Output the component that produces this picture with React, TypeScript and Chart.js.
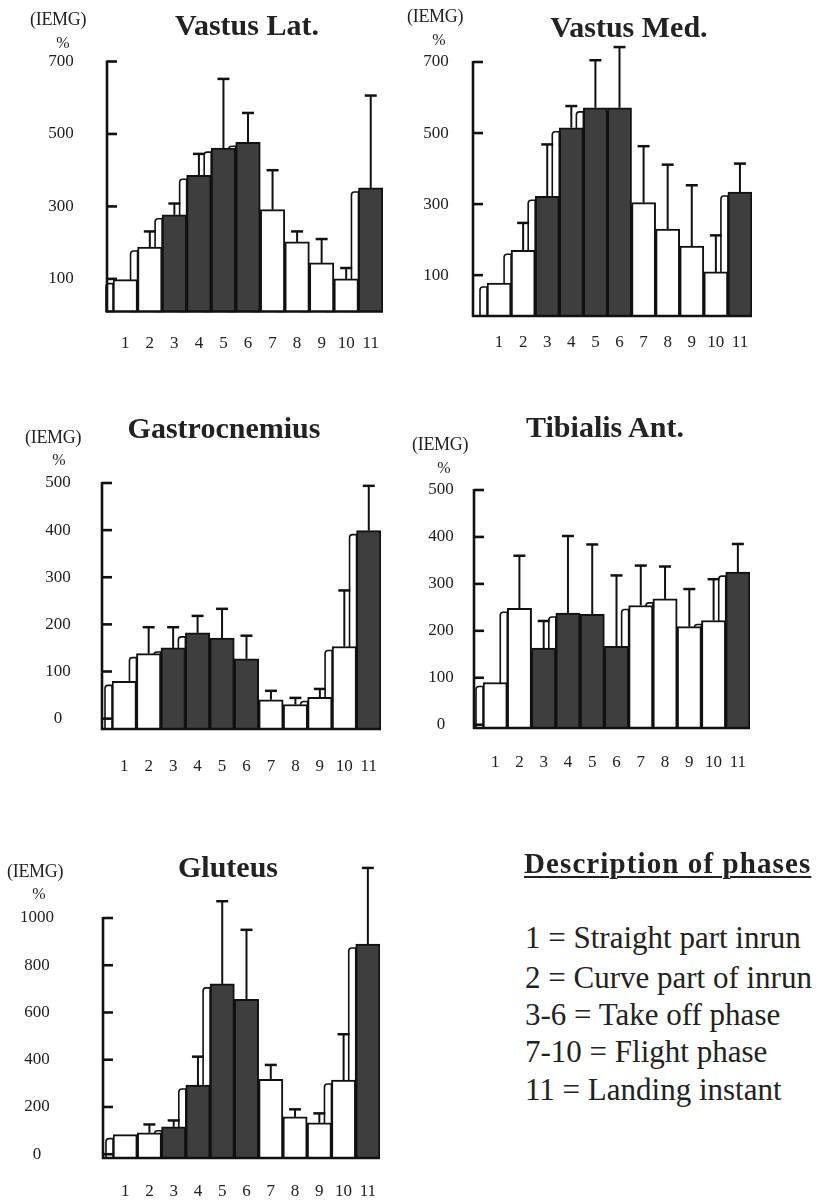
import React, { useEffect, useRef } from 'react';
import { Chart, registerables } from 'chart.js';

Chart.register(...registerables);

// ---------- data ----------
const PHASES = ['1', '2', '3', '4', '5', '6', '7', '8', '9', '10', '11'];
const PHASE_GROUP = ['inrun', 'inrun', 'takeoff', 'takeoff', 'takeoff', 'takeoff', 'flight', 'flight', 'flight', 'flight', 'landing'];

const VASTUS_LAT_MEAN = [98, 188, 277, 386, 461, 477, 291, 202, 144, 100, 351];
const VASTUS_LAT_UPPER = [null, 231, 308, 445, 652, 558, 400, 231, 210, 130, 606];

const VASTUS_MED_MEAN = [78, 170, 322, 515, 571, 571, 304, 230, 182, 109, 334];
const VASTUS_MED_UPPER = [null, 247, 468, 576, 705, 742, 463, 411, 353, 212, 414];

const GASTRO_MEAN = [79, 138, 150, 182, 171, 127, 40, 30, 45, 153, 399];
const GASTRO_UPPER = [null, 194, 194, 218, 233, 176, 59, 44, 63, 272, 494];

const TIBIALIS_MEAN = [90, 248, 163, 238, 235, 167, 254, 268, 209, 222, 325];
const TIBIALIS_UPPER = [null, 360, 221, 402, 384, 318, 339, 337, 289, 310, 385];

const GLUTEUS_MEAN = [83, 91, 116, 293, 721, 656, 317, 158, 133, 314, 890];
const GLUTEUS_UPPER = [null, 126, 143, 413, 1071, 950, 378, 190, 173, 508, 1212];

const TICKS_700 = [100, 300, 500, 700];
const TICKS_500 = [0, 100, 200, 300, 400, 500];
const TICKS_1000 = [0, 200, 400, 600, 800, 1000];

const DESCRIPTION_TITLE = 'Description of phases';
const DESCRIPTION_LINES = [
  '1 = Straight part inrun',
  '2 = Curve part of inrun',
  '3-6 = Take off phase',
  '7-10 = Flight phase',
  '11 = Landing instant',
];

// ---------- styles / layout ----------
const SERIF = "'Liberation Serif', 'Times New Roman', serif";
const INK = '#222';
const DARK_FILL = '#3e3e3e';
const LIGHT_FILL = '#ffffff';

const groupColor = (g: string) => (g === 'takeoff' || g === 'landing' ? DARK_FILL : LIGHT_FILL);

type Layout = {
  canvas: { x: number; y: number; w: number };
  area: { left: number; top: number; right: number; bottom: number };
  yMin: number;
  yMax: number;
  axisGap: number;
  yLabelCenter: number;
  widest: number;
  xLabelPad: number;
  titleCx: number;
  titleBase: number;
  iemgLeft: number;
  iemgBase: number;
  pctCx: number;
  pctBase: number;
};

const SPECS = [
  { title: 'Vastus Lat.', mean: VASTUS_LAT_MEAN, upper: VASTUS_LAT_UPPER, ticks: TICKS_700 },
  { title: 'Vastus Med.', mean: VASTUS_MED_MEAN, upper: VASTUS_MED_UPPER, ticks: TICKS_700 },
  { title: 'Gastrocnemius', mean: GASTRO_MEAN, upper: GASTRO_UPPER, ticks: TICKS_500 },
  { title: 'Tibialis Ant.', mean: TIBIALIS_MEAN, upper: TIBIALIS_UPPER, ticks: TICKS_500 },
  { title: 'Gluteus', mean: GLUTEUS_MEAN, upper: GLUTEUS_UPPER, ticks: TICKS_1000 },
];

const TICK_FONT = 17;
const X_SCALE_HEIGHT = 75;
const BOTTOM_PAD = 2;

const LAYOUTS: Layout[] = [
  {
    canvas: { x: 0, y: 0, w: 410 },
    area: { left: 113, top: 61.5, right: 383, bottom: 311.5 },
    yMin: 10, yMax: 700, axisGap: 6, yLabelCenter: 61, widest: 3, xLabelPad: 22,
    titleCx: 247, titleBase: 35, iemgLeft: 30, iemgBase: 25, pctCx: 63, pctBase: 48,
  },
  {
    canvas: { x: 409, y: 0, w: 410 },
    area: { left: 487, top: 62, right: 752, bottom: 316 },
    yMin: -15, yMax: 700, axisGap: 14, yLabelCenter: 436, widest: 3, xLabelPad: 16,
    titleCx: 629, titleBase: 37, iemgLeft: 407, iemgBase: 22, pctCx: 439, pctBase: 45,
  },
  {
    canvas: { x: 0, y: 400, w: 410 },
    area: { left: 112, top: 483, right: 381, bottom: 729 },
    yMin: -22, yMax: 500, axisGap: 10, yLabelCenter: 58, widest: 3, xLabelPad: 27,
    titleCx: 224, titleBase: 438, iemgLeft: 25, iemgBase: 443, pctCx: 59, pctBase: 465,
  },
  {
    canvas: { x: 409, y: 400, w: 410 },
    area: { left: 483, top: 490, right: 750, bottom: 728 },
    yMin: -7, yMax: 500, axisGap: 9, yLabelCenter: 441, widest: 3, xLabelPad: 24,
    titleCx: 605, titleBase: 437, iemgLeft: 412, iemgBase: 450, pctCx: 444, pctBase: 473,
  },
  {
    canvas: { x: 0, y: 830, w: 410 },
    area: { left: 113, top: 918, right: 380, bottom: 1158 },
    yMin: -16, yMax: 1000, axisGap: 10, yLabelCenter: 37, widest: 4, xLabelPad: 23,
    titleCx: 228, titleBase: 877, iemgLeft: 7, iemgBase: 877, pctCx: 39, pctBase: 899,
  },
];

const oldStylePlugin = {
  id: 'oldStyle',
  beforeDatasetsDraw(chart: any, _args: any, opts: any) {
    const ctx = chart.ctx as CanvasRenderingContext2D;
    const meta = chart.getDatasetMeta(0);
    ctx.save();
    meta.data.forEach((el: any) => {
      const { x, y, base, width } = el.getProps(['x', 'y', 'base', 'width'], true);
      const left = x - width / 2;
      const sw = opts.sideWidth;
      const top = y + opts.sideDrop;
      const r = 3;
      ctx.beginPath();
      ctx.moveTo(left, base);
      ctx.lineTo(left - sw, base);
      ctx.lineTo(left - sw, top + r);
      ctx.quadraticCurveTo(left - sw, top, left - sw + r, top);
      ctx.lineTo(left, top);
      ctx.closePath();
      ctx.fillStyle = '#fff';
      ctx.fill();
      ctx.lineWidth = 1.6;
      ctx.strokeStyle = '#111';
      ctx.stroke();
    });
    ctx.restore();
  },
  afterDatasetsDraw(chart: any, _args: any, opts: any) {
    const ctx = chart.ctx as CanvasRenderingContext2D;
    const meta = chart.getDatasetMeta(0);
    const yScale = chart.scales.y;
    const area = chart.chartArea;
    const upper: (number | null)[] = opts.upper;
    ctx.save();
    ctx.strokeStyle = '#111';
    // error bars (upward only)
    meta.data.forEach((el: any, i: number) => {
      const u = upper[i];
      if (u == null) return;
      const { x, y } = el.getProps(['x', 'y'], true);
      const yt = yScale.getPixelForValue(u);
      ctx.lineWidth = 2;
      ctx.beginPath();
      ctx.moveTo(x, y);
      ctx.lineTo(x, yt);
      ctx.stroke();
      ctx.lineWidth = 2.5;
      ctx.beginPath();
      ctx.moveTo(x - 6, yt);
      ctx.lineTo(x + 6, yt);
      ctx.stroke();
    });
    // axes
    const ax = area.left - opts.axisGap;
    ctx.lineWidth = 2.6;
    ctx.beginPath();
    ctx.moveTo(ax, area.top - 1);
    ctx.lineTo(ax, area.bottom + 1);
    ctx.moveTo(ax - 1, area.bottom);
    ctx.lineTo(area.right, area.bottom);
    ctx.stroke();
    yScale.ticks.forEach((t: any) => {
      const ty = yScale.getPixelForValue(t.value);
      ctx.beginPath();
      ctx.moveTo(ax, ty);
      ctx.lineTo(ax + 10, ty);
      ctx.stroke();
    });
    ctx.restore();
  },
};

function MuscleChart({ spec, layout }: { spec: typeof SPECS[number]; layout: Layout }) {
  const ref = useRef<HTMLCanvasElement | null>(null);
  const { canvas, area } = layout;
  const canvasH = Math.ceil(area.bottom + X_SCALE_HEIGHT + BOTTOM_PAD - canvas.y);
  useEffect(() => {
    if (!ref.current) return;
    const yPad = area.left - layout.yLabelCenter - (layout.widest * TICK_FONT * 0.5) / 2;
    const chart = new Chart(ref.current, {
      type: 'bar',
      data: {
        labels: PHASES,
        datasets: [
          {
            data: spec.mean,
            backgroundColor: PHASE_GROUP.map(groupColor),
            borderColor: '#111',
            borderWidth: 2,
            base: layout.yMin,
            categoryPercentage: 1,
            barPercentage: 1,
          } as any,
        ],
      },
      options: {
        responsive: false,
        animation: false,
        devicePixelRatio: 1,
        layout: {
          padding: {
            left: 0,
            top: area.top - canvas.y,
            right: canvas.x + canvas.w - area.right,
            bottom: canvas.y + canvasH - area.bottom - X_SCALE_HEIGHT,
          },
        },
        plugins: {
          legend: { display: false },
          tooltip: { enabled: false },
          title: { display: false },
          oldStyle: { sideWidth: 7, sideDrop: 4, axisGap: layout.axisGap, upper: spec.upper },
        } as any,
        scales: {
          x: {
            type: 'category',
            offset: true,
            grid: { display: false, drawTicks: false },
            border: { display: false },
            ticks: { font: { family: SERIF, size: TICK_FONT }, color: INK, padding: layout.xLabelPad, maxRotation: 0, autoSkip: false },
            afterFit: (s: any) => { s.height = X_SCALE_HEIGHT; },
          },
          y: {
            type: 'linear',
            min: layout.yMin,
            max: layout.yMax,
            grid: { display: false, drawTicks: false },
            border: { display: false },
            ticks: {
              font: { family: SERIF, size: TICK_FONT },
              color: INK,
              padding: yPad,
              crossAlign: 'center',
              callback: (v: any) => String(v),
            },
            afterBuildTicks: (s: any) => { s.ticks = spec.ticks.map((v) => ({ value: v })); },
            afterFit: (s: any) => { s.width = area.left - canvas.x; },
          },
        } as any,
      },
      plugins: [oldStylePlugin],
    });
    return () => chart.destroy();
  }, [spec, layout]);

  return (
    <canvas
      ref={ref}
      width={canvas.w}
      height={canvasH}
      style={{ position: 'absolute', left: canvas.x, top: canvas.y, width: canvas.w, height: canvasH }}
    />
  );
}

function TextAt({ text, x, base, size, bold, align, underline, spacing }: {
  text: string; x: number; base: number; size: number; bold?: boolean; align?: 'left' | 'center'; underline?: boolean; spacing?: number;
}) {
  const top = base - 0.8375 * size;
  const w = 500;
  const left = align === 'center' ? x - w / 2 : x;
  return (
    <div
      style={{
        position: 'absolute',
        left,
        top,
        width: w,
        textAlign: align === 'center' ? 'center' : 'left',
        fontFamily: SERIF,
        fontSize: size,
        lineHeight: 1,
        fontWeight: bold ? 700 : 400,
        color: INK,
        whiteSpace: 'nowrap',
        textDecoration: underline ? 'underline' : 'none',
        textDecorationThickness: underline ? 2 : undefined,
        textUnderlineOffset: underline ? 3 : undefined,
        letterSpacing: spacing ?? 0,
      }}
    >
      {text}
    </div>
  );
}

const DESCRIPTION_BASELINES = [948, 988, 1025, 1062, 1100];

export default function App() {
  return (
    <div style={{ position: 'absolute', left: 0, top: 0, width: 819, height: 1204, background: '#fff', overflow: 'hidden' }}>
      {SPECS.map((spec, i) => {
        const l = LAYOUTS[i];
        return (
          <React.Fragment key={spec.title}>
            <MuscleChart spec={spec} layout={l} />
            <TextAt text={spec.title} x={l.titleCx} base={l.titleBase} size={30} bold align="center" />
            <TextAt text="(IEMG)" x={l.iemgLeft} base={l.iemgBase} size={18} spacing={-0.3} />
            <TextAt text="%" x={l.pctCx} base={l.pctBase} size={16} align="center" />
          </React.Fragment>
        );
      })}
      <TextAt text={DESCRIPTION_TITLE} x={524} base={873} size={29} bold underline spacing={1.1} />
      {DESCRIPTION_LINES.map((line, i) => (
        <TextAt key={line} text={line} x={525} base={DESCRIPTION_BASELINES[i]} size={31} />
      ))}
    </div>
  );
}
